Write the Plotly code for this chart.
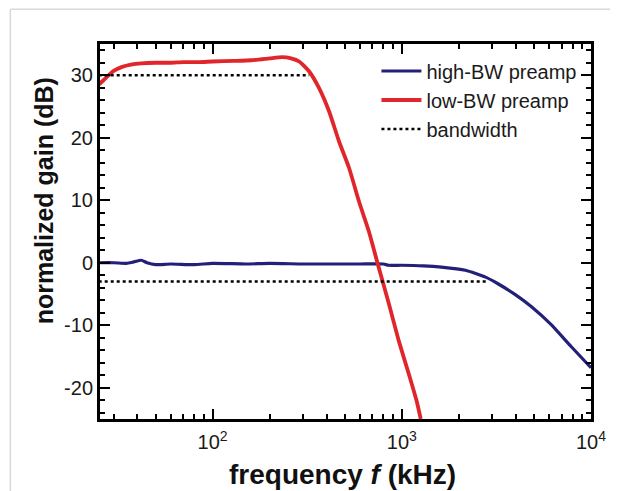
import math
import plotly.graph_objects as go

# ---- data ----
high_f = [25, 30, 35, 38, 42, 45, 50, 60, 80, 100, 150, 200, 300, 400, 600, 800, 850,
          1000, 1300, 1620, 2170, 2770, 3240, 3980, 4830, 6160, 7850, 10000]
high_db = [0.0, 0.0, -0.1, 0.1, 0.4, 0.0, -0.3, -0.2, -0.3, -0.1, -0.2, -0.1, -0.2, -0.2,
           -0.2, -0.2, -0.4, -0.4, -0.5, -0.7, -1.2, -2.3, -3.4, -5.1, -7.0, -9.9, -13.4, -16.8]

low_f = [25, 26.5, 28, 30, 33, 37, 42, 50, 60, 70, 85, 100, 130, 160, 200, 233, 260, 287,
         324, 366, 413, 466, 526, 594, 670, 748, 855, 964, 1089, 1200, 1259]
low_db = [28.5, 29.2, 29.9, 30.7, 31.3, 31.7, 31.9, 32.0, 32.0, 32.1, 32.1, 32.2, 32.3, 32.4,
          32.7, 32.9, 32.7, 32.2, 30.6, 27.9, 24.2, 19.4, 15.2, 9.8, 5.0, -0.3, -6.6, -12.5,
          -17.8, -22.2, -25.0]

bw_start = 25
bw_level = [30, -3]
bw_end = [324, 2870]

x_tickvals = [100, 1000, 10000]
x_ticktext = ["10<sup>2</sup>", "10<sup>3</sup>", "10<sup>4</sup>"]
x_minor = [m * 10 ** d for d in (1, 2, 3) for m in range(2, 10)]
y_tickvals = [-20, -10, 0, 10, 20, 30]
y_ticktext = ["-20", "-10", "0", "10", "20", "30"]

FONT = "Arial, Liberation Sans, sans-serif"
BLUE = "#23207a"
RED = "#e0262a"

fig = go.Figure()
fig.add_trace(go.Scatter(x=high_f, y=high_db, mode="lines", name="high-BW preamp",
                         line=dict(color=BLUE, width=3.2, shape="spline", smoothing=0.5)))
fig.add_trace(go.Scatter(x=low_f, y=low_db, mode="lines", name="low-BW preamp",
                         line=dict(color=RED, width=3.8, shape="spline", smoothing=0.5)))
for i, (lev, end) in enumerate(zip(bw_level, bw_end)):
    fig.add_trace(go.Scatter(x=[bw_start, end], y=[lev, lev], mode="lines", name="bandwidth",
                             showlegend=(i == 0),
                             line=dict(color="black", width=2.5, dash="dot")))

axis_common = dict(showgrid=False, zeroline=False, showline=True, linecolor="black",
                   linewidth=3, mirror="ticks", ticks="inside", tickcolor="black",
                   tickwidth=2.2, ticklen=10,
                   tickfont=dict(family=FONT, size=20, color="#1a1a1a"))

fig.update_xaxes(type="log", range=[math.log10(25.4), 4], tickvals=x_tickvals,
                 ticktext=x_ticktext,
                 minor=dict(tickvals=x_minor, ticks="inside", ticklen=5, tickwidth=2,
                            tickcolor="black"),
                 ticklabelstandoff=3,
                 **axis_common)
fig.update_yaxes(range=[-25, 35], tickvals=y_tickvals, ticktext=y_ticktext,
                 minor=dict(dtick=2, tick0=0, ticks="inside", ticklen=5, tickwidth=2,
                            tickcolor="black"),
                 **axis_common)

fig.update_layout(
    width=610, height=483,
    margin=dict(l=92, r=25, t=36, b=72),
    paper_bgcolor="white", plot_bgcolor="white",
    showlegend=True,
    legend=dict(x=0.563, y=0.98, xanchor="left", yanchor="top",
                bgcolor="rgba(0,0,0,0)", font=dict(family=FONT, size=20, color="#1a1a1a"),
                itemwidth=40, tracegroupgap=0),
    annotations=[
        dict(text="<b>frequency <i>f</i> (kHz)</b>", xref="paper", yref="paper",
             x=0.494, y=-0.147, xanchor="center", yanchor="middle", showarrow=False,
             font=dict(family=FONT, size=28, color="#111")),
        dict(text="<b>normalized gain (dB)</b>", xref="paper", yref="paper",
             x=-0.1136, y=0.581, xanchor="center", yanchor="middle", showarrow=False,
             textangle=-90, font=dict(family=FONT, size=25, color="#111")),
    ],
    shapes=[
        dict(type="line", xref="paper", yref="paper", x0=-0.1826, x1=1.1, y0=1.093, y1=1.093,
             line=dict(color="#d9d9d9", width=1.5)),
        dict(type="line", xref="paper", yref="paper", x0=-0.1826, x1=-0.1826, y0=1.093, y1=-0.3,
             line=dict(color="#d9d9d9", width=1.5)),
    ],
)

fig.write_html("out.html")
